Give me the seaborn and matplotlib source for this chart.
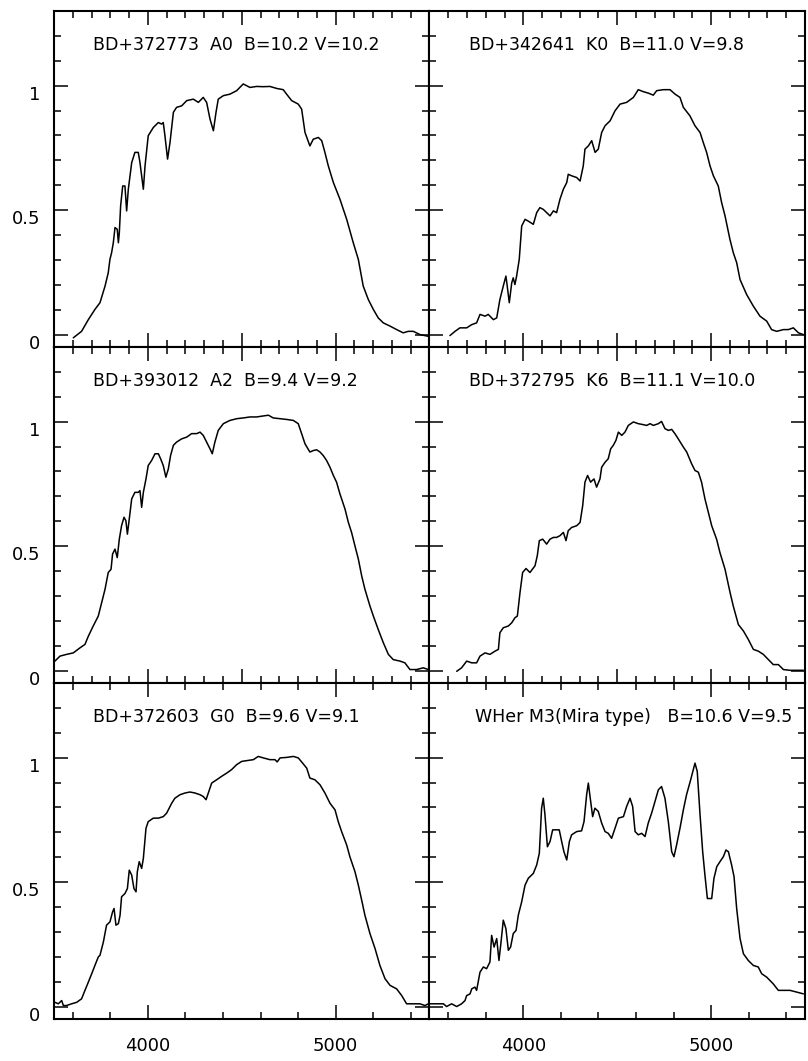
import matplotlib.pyplot as plt
import seaborn as sns
from matplotlib.ticker import MultipleLocator, FuncFormatter

# spectra: wavelength (A) and normalized flux
wave_a0 = [3603, 3647, 3683, 3718, 3745, 3772, 3789, 3798, 3807, 3816, 3825, 3837, 3843, 3848, 3855,
           3866, 3878, 3887, 3896, 3914, 3931, 3949, 3958, 3976, 3985, 4002, 4029, 4056, 4073, 4082,
           4091, 4105, 4118, 4136, 4153, 4180, 4207, 4242, 4269, 4295, 4313, 4331, 4349, 4363, 4375,
           4402, 4437, 4473, 4508, 4544, 4579, 4615, 4650, 4686, 4721, 4739, 4766, 4801, 4819, 4837,
           4863, 4881, 4908, 4926, 4943, 4961, 4988, 5023, 5059, 5094, 5121, 5147, 5174, 5201, 5227,
           5254, 5290, 5325, 5360, 5387, 5414, 5449, 5494]
flux_a0 = [-0.013, 0.013, 0.060, 0.101, 0.128, 0.195, 0.248, 0.302, 0.329, 0.369, 0.430, 0.423, 0.369, 0.409, 0.517,
           0.597, 0.597, 0.497, 0.584, 0.691, 0.732, 0.732, 0.691, 0.584, 0.678, 0.799, 0.832, 0.852, 0.846, 0.852,
           0.799, 0.705, 0.772, 0.893, 0.913, 0.919, 0.940, 0.946, 0.933, 0.953, 0.933, 0.866, 0.819, 0.893, 0.946,
           0.960, 0.966, 0.980, 1.007, 0.993, 0.997, 0.996, 0.997, 0.989, 0.984, 0.966, 0.940, 0.926, 0.906, 0.812,
           0.758, 0.785, 0.792, 0.779, 0.732, 0.678, 0.611, 0.544, 0.463, 0.369, 0.302, 0.195, 0.141, 0.101, 0.067,
           0.047, 0.034, 0.020, 0.007, 0.013, 0.013, 0.000, -0.007]

wave_k0 = [3609, 3636, 3662, 3698, 3725, 3751, 3769, 3796, 3813, 3840, 3858, 3875, 3893, 3907, 3914,
           3925, 3938, 3946, 3955, 3964, 3978, 3991, 4009, 4026, 4053, 4071, 4088, 4106, 4124, 4142,
           4160, 4177, 4195, 4213, 4231, 4239, 4257, 4284, 4302, 4319, 4328, 4346, 4364, 4382, 4399,
           4417, 4435, 4462, 4488, 4515, 4550, 4586, 4612, 4639, 4666, 4692, 4710, 4745, 4781, 4808,
           4834, 4852, 4887, 4914, 4941, 4958, 4976, 4994, 5012, 5038, 5056, 5074, 5100, 5118, 5136,
           5154, 5189, 5225, 5260, 5296, 5322, 5349, 5385, 5411, 5438, 5465, 5491]
flux_k0 = [-0.004, 0.013, 0.027, 0.027, 0.040, 0.047, 0.081, 0.074, 0.081, 0.060, 0.067, 0.141, 0.195, 0.235, 0.195,
           0.128, 0.208, 0.228, 0.201, 0.235, 0.302, 0.436, 0.463, 0.456, 0.443, 0.490, 0.510, 0.503, 0.490, 0.477,
           0.497, 0.490, 0.544, 0.584, 0.611, 0.644, 0.638, 0.631, 0.617, 0.678, 0.745, 0.758, 0.779, 0.732, 0.745,
           0.812, 0.839, 0.859, 0.899, 0.926, 0.933, 0.953, 0.984, 0.976, 0.970, 0.962, 0.980, 0.984, 0.984, 0.966,
           0.953, 0.913, 0.879, 0.839, 0.812, 0.772, 0.732, 0.678, 0.638, 0.597, 0.530, 0.477, 0.383, 0.329, 0.289,
           0.221, 0.161, 0.114, 0.074, 0.054, 0.020, 0.013, 0.020, 0.020, 0.027, 0.007, 0.000]

wave_a2 = [3505, 3532, 3567, 3603, 3638, 3665, 3683, 3709, 3736, 3754, 3772, 3789, 3804, 3812, 3825,
           3837, 3848, 3860, 3873, 3883, 3891, 3901, 3914, 3931, 3949, 3958, 3967, 3976, 3990, 4002,
           4020, 4038, 4056, 4068, 4082, 4096, 4109, 4121, 4136, 4153, 4180, 4207, 4233, 4260, 4278,
           4295, 4313, 4331, 4343, 4357, 4375, 4402, 4437, 4473, 4508, 4544, 4579, 4615, 4642, 4668,
           4704, 4739, 4775, 4801, 4819, 4837, 4863, 4881, 4899, 4917, 4934, 4952, 4970, 4988, 5005,
           5023, 5050, 5068, 5085, 5103, 5121, 5139, 5156, 5183, 5201, 5227, 5254, 5281, 5307, 5343,
           5369, 5396, 5431, 5467, 5494]
flux_a2 = [0.038, 0.058, 0.065, 0.071, 0.091, 0.105, 0.138, 0.179, 0.219, 0.273, 0.327, 0.394, 0.407, 0.468, 0.488,
           0.454, 0.528, 0.582, 0.616, 0.602, 0.548, 0.609, 0.690, 0.716, 0.716, 0.723, 0.656, 0.716, 0.770, 0.824,
           0.844, 0.871, 0.871, 0.851, 0.824, 0.777, 0.810, 0.864, 0.905, 0.918, 0.931, 0.938, 0.952, 0.952, 0.958,
           0.945, 0.918, 0.891, 0.871, 0.918, 0.965, 0.992, 1.005, 1.012, 1.015, 1.019, 1.019, 1.023, 1.026, 1.015,
           1.012, 1.009, 1.005, 0.992, 0.952, 0.911, 0.878, 0.884, 0.887, 0.878, 0.864, 0.844, 0.817, 0.784, 0.757,
           0.710, 0.649, 0.595, 0.555, 0.501, 0.448, 0.380, 0.327, 0.259, 0.219, 0.165, 0.112, 0.065, 0.044, 0.038,
           0.031, 0.004, 0.004, 0.011, 0.004]

wave_k6 = [3645, 3671, 3698, 3725, 3751, 3769, 3796, 3822, 3849, 3867, 3875, 3893, 3920, 3938, 3955,
           3968, 3982, 3996, 4014, 4035, 4062, 4074, 4085, 4103, 4124, 4142, 4160, 4177, 4195, 4213,
           4227, 4239, 4257, 4284, 4302, 4316, 4328, 4342, 4358, 4376, 4390, 4408, 4417, 4435, 4452,
           4465, 4479, 4493, 4506, 4524, 4541, 4559, 4586, 4612, 4639, 4657, 4675, 4692, 4719, 4736,
           4754, 4772, 4790, 4807, 4825, 4852, 4870, 4896, 4914, 4932, 4949, 4967, 4985, 5003, 5029,
           5047, 5074, 5101, 5118, 5145, 5172, 5198, 5225, 5251, 5278, 5305, 5331, 5358, 5385, 5420,
           5456, 5491]
flux_k6 = [-0.003, 0.011, 0.038, 0.031, 0.031, 0.058, 0.071, 0.065, 0.078, 0.085, 0.152, 0.172, 0.179, 0.192, 0.212,
           0.219, 0.313, 0.394, 0.410, 0.394, 0.421, 0.461, 0.522, 0.528, 0.508, 0.528, 0.535, 0.535, 0.542, 0.555,
           0.522, 0.562, 0.575, 0.582, 0.595, 0.663, 0.757, 0.784, 0.757, 0.770, 0.737, 0.770, 0.817, 0.837, 0.851,
           0.891, 0.905, 0.925, 0.958, 0.945, 0.958, 0.985, 0.999, 0.992, 0.988, 0.985, 0.992, 0.985, 0.992, 1.001,
           0.972, 0.965, 0.969, 0.952, 0.931, 0.898, 0.878, 0.831, 0.804, 0.797, 0.757, 0.690, 0.636, 0.582, 0.528,
           0.474, 0.407, 0.313, 0.259, 0.185, 0.159, 0.125, 0.085, 0.078, 0.065, 0.044, 0.024, 0.024, 0.004, 0.001,
           0.001, 0.001]

wave_g0 = [3505, 3523, 3541, 3550, 3567, 3594, 3621, 3647, 3665, 3683, 3701, 3718, 3736, 3745, 3763,
           3780, 3798, 3812, 3820, 3830, 3843, 3852, 3860, 3878, 3891, 3901, 3914, 3926, 3937, 3944,
           3954, 3967, 3976, 3990, 4002, 4029, 4056, 4082, 4100, 4127, 4144, 4171, 4198, 4224, 4251,
           4278, 4295, 4310, 4322, 4340, 4366, 4393, 4420, 4446, 4473, 4500, 4526, 4562, 4588, 4615,
           4650, 4677, 4689, 4704, 4739, 4775, 4801, 4819, 4846, 4863, 4890, 4917, 4943, 4970, 4997,
           5014, 5032, 5059, 5076, 5103, 5121, 5139, 5156, 5183, 5210, 5236, 5263, 5290, 5325, 5352,
           5378, 5414, 5449, 5476, 5494]
flux_g0 = [0.017, 0.011, 0.024, 0.004, 0.004, 0.011, 0.017, 0.031, 0.065, 0.098, 0.132, 0.165, 0.199, 0.206, 0.259,
           0.327, 0.340, 0.380, 0.394, 0.327, 0.333, 0.367, 0.441, 0.454, 0.474, 0.548, 0.528, 0.474, 0.461, 0.542,
           0.582, 0.555, 0.595, 0.716, 0.743, 0.757, 0.757, 0.763, 0.777, 0.817, 0.837, 0.851, 0.858, 0.862, 0.858,
           0.851, 0.844, 0.831, 0.858, 0.898, 0.911, 0.925, 0.938, 0.952, 0.972, 0.985, 0.988, 0.992, 1.005, 0.999,
           0.992, 0.992, 0.983, 0.999, 1.001, 1.005, 0.999, 0.983, 0.958, 0.918, 0.911, 0.891, 0.858, 0.817, 0.790,
           0.743, 0.703, 0.649, 0.602, 0.542, 0.488, 0.427, 0.367, 0.293, 0.233, 0.165, 0.112, 0.085, 0.071, 0.044,
           0.011, 0.011, 0.011, 0.004, 0.011]

wave_mira = [3503, 3538, 3574, 3591, 3618, 3645, 3671, 3689, 3698, 3716, 3725, 3742, 3751, 3769, 3787,
             3804, 3822, 3831, 3844, 3858, 3870, 3881, 3893, 3907, 3920, 3932, 3946, 3961, 3973, 3991,
             4009, 4026, 4053, 4071, 4085, 4097, 4106, 4115, 4128, 4142, 4156, 4174, 4191, 4204, 4216,
             4231, 4245, 4257, 4284, 4310, 4323, 4337, 4346, 4355, 4369, 4381, 4399, 4417, 4435, 4452,
             4470, 4488, 4506, 4533, 4550, 4568, 4582, 4595, 4612, 4630, 4648, 4665, 4683, 4701, 4719,
             4736, 4754, 4772, 4790, 4802, 4816, 4834, 4852, 4869, 4891, 4914, 4926, 4941, 4955, 4967,
             4980, 5003, 5015, 5030, 5047, 5065, 5079, 5092, 5109, 5122, 5136, 5154, 5172, 5198, 5225,
             5251, 5269, 5296, 5313, 5331, 5358, 5385, 5420, 5456, 5491]
flux_mira = [0.011, 0.011, 0.011, 0.000, 0.011, 0.000, 0.011, 0.024, 0.044, 0.051, 0.071, 0.078, 0.065, 0.138, 0.159,
             0.152, 0.179, 0.286, 0.239, 0.273, 0.185, 0.259, 0.347, 0.313, 0.226, 0.239, 0.293, 0.306, 0.367, 0.421,
             0.488, 0.515, 0.535, 0.569, 0.616, 0.797, 0.837, 0.770, 0.642, 0.663, 0.710, 0.710, 0.710, 0.663, 0.622,
             0.589, 0.663, 0.690, 0.703, 0.706, 0.743, 0.851, 0.898, 0.844, 0.763, 0.797, 0.784, 0.737, 0.703, 0.696,
             0.676, 0.716, 0.757, 0.763, 0.804, 0.837, 0.804, 0.703, 0.690, 0.696, 0.683, 0.737, 0.777, 0.824, 0.871,
             0.884, 0.837, 0.743, 0.622, 0.602, 0.649, 0.716, 0.790, 0.851, 0.911, 0.978, 0.945, 0.770, 0.622, 0.528,
             0.434, 0.434, 0.515, 0.562, 0.582, 0.602, 0.629, 0.622, 0.569, 0.522, 0.394, 0.273, 0.212, 0.185, 0.165,
             0.159, 0.132, 0.118, 0.105, 0.091, 0.065, 0.065, 0.065, 0.058, 0.051]

titles = ["BD+372773  A0  B=10.2 V=10.2", "BD+342641  K0  B=11.0 V=9.8",
          "BD+393012  A2  B=9.4 V=9.2", "BD+372795  K6  B=11.1 V=10.0",
          "BD+372603  G0  B=9.6 V=9.1", "WHer M3(Mira type)   B=10.6 V=9.5"]
waves = [wave_a0, wave_k0, wave_a2, wave_k6, wave_g0, wave_mira]
fluxes = [flux_a0, flux_k0, flux_a2, flux_k6, flux_g0, flux_mira]

sns.set_style("white")
plt.rcParams['font.family'] = ['DejaVu Sans']
plt.rcParams['text.color'] = 'black'
plt.rcParams['xtick.color'] = 'black'
plt.rcParams['ytick.color'] = 'black'

fig, axes = plt.subplots(3, 2, figsize=(8.08, 10.61), dpi=100)
fig.subplots_adjust(left=0.0668, right=0.9963, top=0.9896, bottom=0.0396, wspace=0, hspace=0)

for i, ax in enumerate(axes.flat):
    row, col = divmod(i, 2)
    sns.lineplot(x=waves[i], y=fluxes[i], ax=ax, color="black", lw=1.1, estimator=None, sort=False)
    ax.set_xlim(3500, 5500)
    ax.set_ylim(-0.05, 1.3)

    # pgplot-like ticks: inward on all four sides
    if row < 2:
        ax.xaxis.set_major_locator(MultipleLocator(500))
        ax.xaxis.set_minor_locator(MultipleLocator(100))
    else:
        ax.xaxis.set_major_locator(MultipleLocator(1000))
        ax.xaxis.set_minor_locator(MultipleLocator(200))
    ax.yaxis.set_major_locator(MultipleLocator(0.5))
    ax.yaxis.set_minor_locator(MultipleLocator(0.1))
    ax.tick_params(which="both", direction="in", top=True, right=True, bottom=True, left=True,
                   color="black", labelcolor="black", width=1.1, labelsize=13)
    ax.tick_params(which="major", length=10)
    ax.tick_params(which="minor", length=5)
    ax.tick_params(axis="x", pad=13, labelbottom=(row == 2))
    ax.tick_params(axis="y", pad=10, labelleft=(col == 0))
    ax.yaxis.set_major_formatter(FuncFormatter(lambda v, p: "%g" % v))
    for s in ax.spines.values():
        s.set_color("black")
        s.set_linewidth(1.5)

    x0 = 0.104 if i < 5 else 0.12
    ax.text(x0, 0.884, titles[i], transform=ax.transAxes, fontsize=12.5, va="baseline", ha="left",
            color="black")

fig.canvas.draw()
for ax in axes[:, 0]:
    for lbl in ax.get_yticklabels():
        lbl.set_verticalalignment("top")

plt.savefig("out.png", dpi=100)
